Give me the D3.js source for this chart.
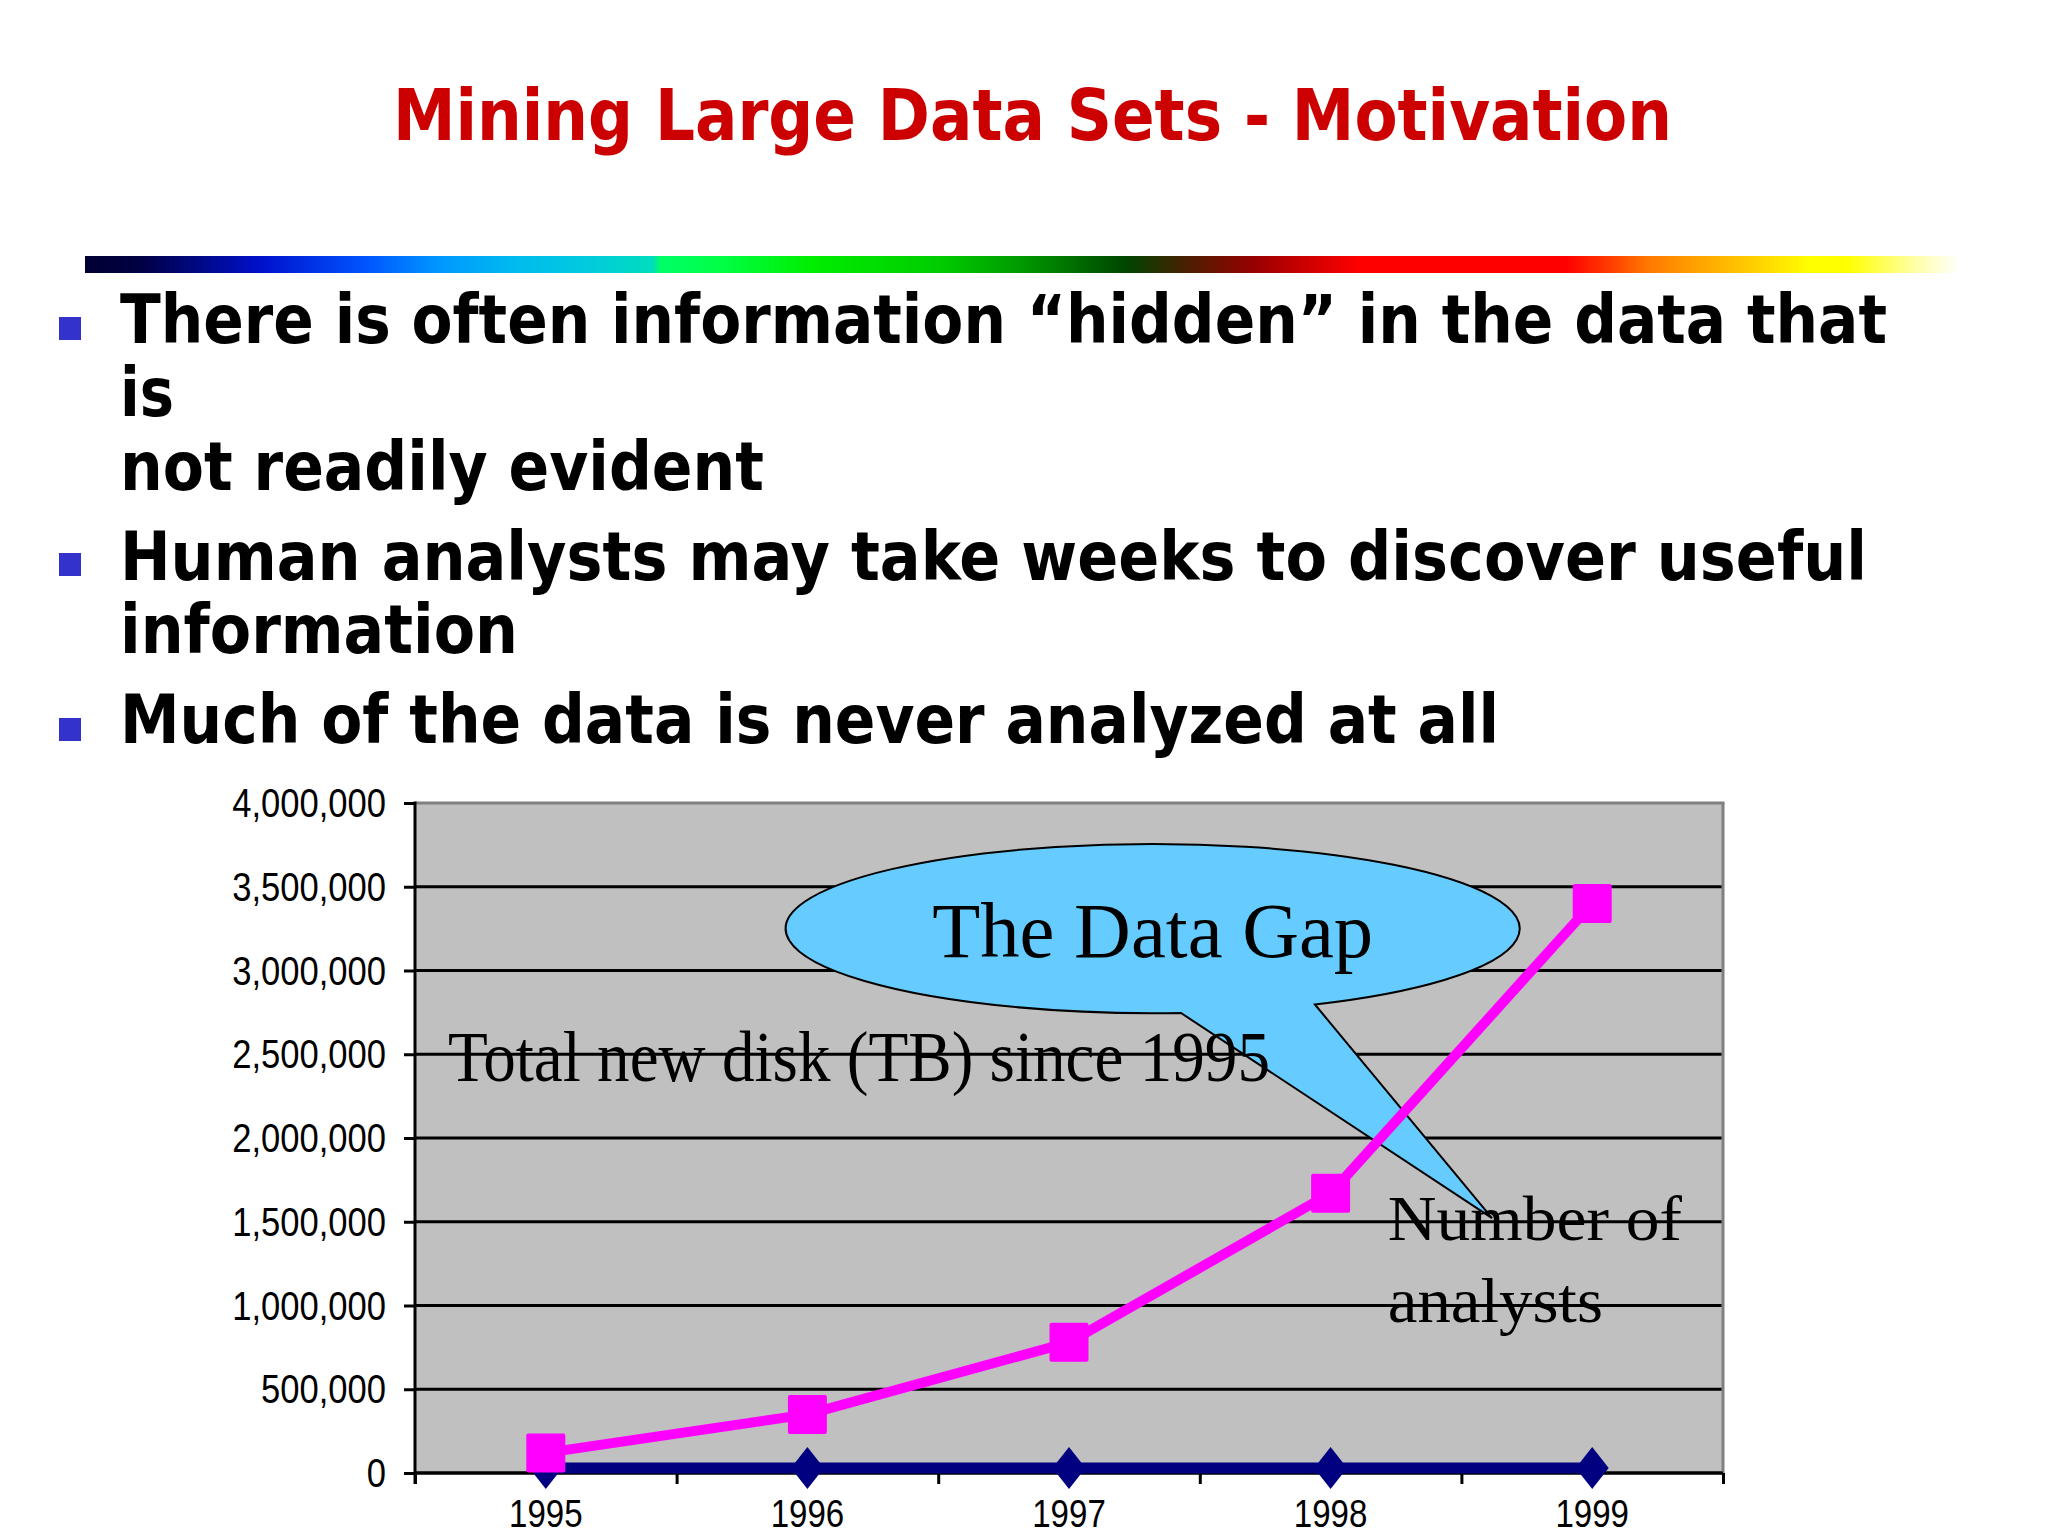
<!DOCTYPE html>
<html>
<head>
<meta charset="utf-8">
<script src="https://cdn.jsdelivr.net/npm/d3@7"></script>
<style>
  html, body { margin: 0; padding: 0; background: #ffffff; overflow: hidden; }
  svg { display: block; }
</style>
</head>
<body>
<svg id="chart" width="2048" height="1536"></svg>
<script>
// ---------------- DATA ----------------
const years = [1995, 1996, 1997, 1998, 1999];
const diskTB = [120000, 350000, 780000, 1670000, 3400000];   // Total new disk (TB) since 1995
const analysts = [30000, 30000, 30000, 30000, 30000];         // Number of analysts (on same axis)
const yTicks = [0, 500000, 1000000, 1500000, 2000000, 2500000, 3000000, 3500000, 4000000];
const titleText = "Mining Large Data Sets - Motivation";
const bulletLines = [
  "There is often information \u201Chidden\u201D in the data that",
  "is",
  "not readily evident",
  "Human analysts may take weeks to discover useful",
  "information",
  "Much of the data is never analyzed at all"
];
const seriesLabelDisk = "Total new disk (TB) since 1995";
const seriesLabelAnalysts = ["Number of", "analysts"];
const calloutText = "The Data Gap";

// ---------------- LAYOUT ----------------
const svg = d3.select("#chart");
const L = 415, R = 1723, T = 803, B = 1473;

// title
svg.append("text")
  .attr("x", 393).attr("y", 140)
  .attr("textLength", 1279).attr("lengthAdjust", "spacingAndGlyphs")
  .attr("font-family", "'DejaVu Sans', Verdana, sans-serif")
  .attr("font-weight", "bold").attr("font-size", 72)
  .attr("fill", "#cc0000")
  .text(titleText);

// gradient bar
const defs = svg.append("defs");
const grad = defs.append("linearGradient").attr("id", "rainbow")
  .attr("x1", "0%").attr("x2", "100%").attr("y1", "0%").attr("y2", "0%");
[
  [0, "#000033"], [0.03, "#000044"], [0.094, "#0011cc"], [0.15, "#0055ff"],
  [0.19, "#0099ff"], [0.23, "#00bbee"], [0.27, "#00ccdd"], [0.303, "#00ddbb"],
  [0.307, "#00ff66"], [0.34, "#00ff44"], [0.387, "#00ee00"], [0.456, "#00cc00"],
  [0.5, "#009900"], [0.533, "#006600"], [0.556, "#004400"], [0.585, "#442200"],
  [0.624, "#990000"], [0.65, "#cc0000"], [0.68, "#ff0000"], [0.79, "#ff0000"],
  [0.81, "#ff3300"], [0.833, "#ff7700"], [0.854, "#ff9900"], [0.888, "#ffcc00"],
  [0.92, "#ffff00"], [0.94, "#ffff00"], [0.977, "#ffffaa"], [1, "#ffffff"]
].forEach(([o, c]) => grad.append("stop").attr("offset", o).attr("stop-color", c));
svg.append("rect").attr("x", 85).attr("y", 256).attr("width", 1875).attr("height", 17)
  .attr("fill", "url(#rainbow)");

// bullets
const lineBaselines = [343, 416, 490, 580, 653, 743];
const lineWidths = [1767, 54, 644, 1747, 398, 1379];
const bulletTops = [317, 553, 718];
svg.selectAll("rect.bullet").data(bulletTops).join("rect")
  .attr("class", "bullet")
  .attr("x", 59).attr("y", d => d).attr("width", 22).attr("height", 23)
  .attr("fill", "#3333cc");
svg.selectAll("text.body").data(bulletLines).join("text")
  .attr("class", "body")
  .attr("transform", (d, i) => `translate(120,${lineBaselines[i]}) scale(1,1.21)`)
  .attr("x", 0).attr("y", 0)
  .attr("textLength", (d, i) => lineWidths[i]).attr("lengthAdjust", "spacingAndGlyphs")
  .attr("font-family", "'DejaVu Sans', Verdana, sans-serif")
  .attr("font-weight", "bold").attr("font-size", 56)
  .attr("fill", "#000000")
  .text(d => d);

// ---------------- CHART ----------------
const x = d3.scaleBand().domain(years).range([L, R]).paddingInner(0).paddingOuter(0);
const bw = x.bandwidth();
const cx = d => x(d) + bw / 2;
const xc = d3.scaleLinear().domain([years[0] - 0.5, years[years.length - 1] + 0.5]).range([L, R]);
const y = d3.scaleLinear().domain([0, 4000000]).range([B, T]);

const chart = svg.append("g");

// plot area
chart.append("rect").attr("x", L).attr("y", T).attr("width", R - L).attr("height", B - T)
  .attr("fill", "#c0c0c0");

// gridlines
chart.selectAll("line.grid").data(yTicks.filter(v => v < 4000000)).join("line")
  .attr("class", "grid")
  .attr("x1", L).attr("x2", R).attr("y1", d => y(d)).attr("y2", d => y(d))
  .attr("stroke", "#000").attr("stroke-width", 3);
// top & right borders
chart.append("line").attr("x1", L).attr("x2", R + 1.5).attr("y1", T).attr("y2", T)
  .attr("stroke", "#808080").attr("stroke-width", 3);
chart.append("line").attr("x1", R).attr("x2", R).attr("y1", T).attr("y2", B)
  .attr("stroke", "#808080").attr("stroke-width", 3);

// y axis
const yAxis = chart.append("g").attr("transform", `translate(${L},0)`)
  .call(d3.axisLeft(y).tickValues(yTicks).tickFormat(d3.format(",")).tickSize(11).tickSizeOuter(0));
yAxis.select(".domain").remove();
yAxis.selectAll(".tick line").attr("stroke", "#000").attr("stroke-width", 3);
yAxis.selectAll(".tick text")
  .attr("font-family", "'Liberation Sans', Arial, sans-serif")
  .attr("font-size", 40).attr("fill", "#000")
  .attr("transform", "scale(0.865,1)")
  .attr("x", -29 / 0.865).attr("dy", "0.34em");
chart.append("line").attr("x1", L).attr("x2", L).attr("y1", T - 1.5).attr("y2", B + 11)
  .attr("stroke", "#000").attr("stroke-width", 3);

// x axis ticks (between categories)
const xTickVals = d3.range(years.length + 1).map(i => years[0] - 0.5 + i);
const xAxis = chart.append("g").attr("transform", `translate(0,${B})`)
  .call(d3.axisBottom(xc).tickValues(xTickVals).tickFormat("").tickSize(11).tickSizeOuter(0));
xAxis.select(".domain").remove();
xAxis.selectAll(".tick line").attr("stroke", "#000").attr("stroke-width", 3);
chart.selectAll("text.xlab").data(years).join("text")
  .attr("class", "xlab")
  .attr("transform", d => `translate(${cx(d)},${B + 54}) scale(0.87,1)`)
  .attr("text-anchor", "middle")
  .attr("font-family", "'Liberation Sans', Arial, sans-serif")
  .attr("font-size", 38).attr("fill", "#000")
  .text(d => d);
chart.append("line").attr("x1", L).attr("x2", R).attr("y1", B).attr("y2", B)
  .attr("stroke", "#000").attr("stroke-width", 3);

// callout ("The Data Gap"), positioned in data units
const ell = { cx: 1997.32, cy: 3250000, rx: 1.403, ry: 505000 };
const tail = { left: 1997.428, right: 1997.94, tipX: 1998.617, tipY: 1522000 };
const ecx = xc(ell.cx), ecy = y(ell.cy);
const erx = xc(ell.cx + ell.rx) - ecx, ery = y(0) - y(ell.ry);
const onEllipseBottom = px => ecy + ery * Math.sqrt(1 - Math.pow((px - ecx) / erx, 2));
const lx = xc(tail.left), rx = xc(tail.right);
const ly = onEllipseBottom(lx), ry = onEllipseBottom(rx);
const path = `M${rx},${ry} A${erx},${ery} 0 1 0 ${lx},${ly} L${xc(tail.tipX)},${y(tail.tipY)} Z`;
chart.append("path").attr("d", path)
  .attr("fill", "#66ccff").attr("stroke", "#000").attr("stroke-width", 2)
  .attr("stroke-linejoin", "miter");

// series: number of analysts (navy, diamonds)
const line = d3.line().x((d, i) => cx(years[i])).y(d => y(d));
chart.append("path").datum(analysts).attr("d", line)
  .attr("fill", "none").attr("stroke", "#000080").attr("stroke-width", 11);
chart.selectAll("path.diamond").data(analysts).join("path")
  .attr("class", "diamond")
  .attr("transform", (d, i) => `translate(${cx(years[i])},${y(d)})`)
  .attr("d", "M0,-21L16.5,0L0,21L-16.5,0Z")
  .attr("fill", "#000080");

// series: total new disk (magenta, squares)
chart.append("path").datum(diskTB).attr("d", line)
  .attr("fill", "none").attr("stroke", "#ff00ff").attr("stroke-width", 10)
  .attr("stroke-linejoin", "round");
chart.selectAll("rect.sq").data(diskTB).join("rect")
  .attr("class", "sq")
  .attr("x", (d, i) => cx(years[i]) - 19.5).attr("y", d => y(d) - 19.5)
  .attr("width", 39).attr("height", 39).attr("rx", 2)
  .attr("fill", "#ff00ff");

// annotation texts
const serif = "'Liberation Serif', 'Times New Roman', serif";
chart.append("text")
  .attr("x", xc(1994.626)).attr("y", y(2340000))
  .attr("textLength", 822).attr("lengthAdjust", "spacingAndGlyphs")
  .attr("font-family", serif).attr("font-size", 71).attr("fill", "#000")
  .text(seriesLabelDisk);
chart.append("text")
  .attr("x", ecx).attr("y", y(3081000)).attr("text-anchor", "middle")
  .attr("textLength", 441).attr("lengthAdjust", "spacingAndGlyphs")
  .attr("font-family", serif).attr("font-size", 78).attr("fill", "#000")
  .text(calloutText);
const anBase = [1391000, 901000];
const anW = [294, 215];
chart.selectAll("text.an").data(seriesLabelAnalysts).join("text")
  .attr("class", "an")
  .attr("x", xc(1998.219)).attr("y", (d, i) => y(anBase[i]))
  .attr("textLength", (d, i) => anW[i]).attr("lengthAdjust", "spacingAndGlyphs")
  .attr("font-family", serif).attr("font-size", 64).attr("fill", "#000")
  .text(d => d);
</script>
</body>
</html>
